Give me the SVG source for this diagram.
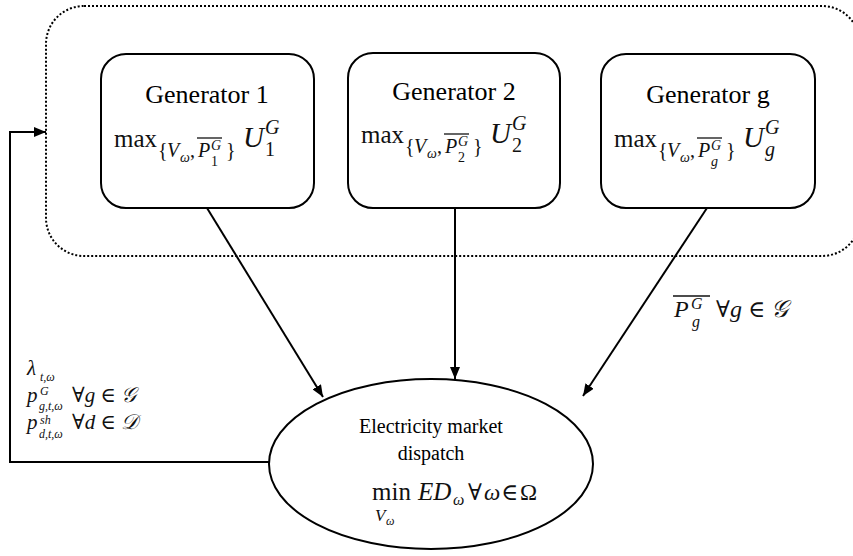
<svg xmlns="http://www.w3.org/2000/svg" width="853" height="556" viewBox="0 0 853 556">
<style>
.box{fill:#fff;stroke:#000;stroke-width:2}
.cont{fill:none;stroke:#000;stroke-width:2;stroke-dasharray:2 2}
.con{fill:none;stroke:#000;stroke-width:2}
.t{font-family:"Liberation Serif","Times New Roman",serif;fill:#000}
.i{font-style:italic}
.m{font-family:"Liberation Serif","Times New Roman",serif;fill:#111}
.s{font-family:"DejaVu Serif",serif;font-style:normal}
.ov{stroke:#111;stroke-width:1.3}
</style>
<defs>
<marker id="ah" viewBox="0 0 12 10" refX="12" refY="5" markerWidth="12" markerHeight="10" markerUnits="userSpaceOnUse" orient="auto">
<path d="M0,0 L12,5 L0,10 Z" fill="#000"/>
</marker>
</defs>
<g id="container">
<rect class="cont" x="46" y="6" width="814" height="250" rx="38"/>
</g>
<g id="connectors">
<line class="con" x1="207" y1="208" x2="323" y2="397" marker-end="url(#ah)"/>
<line class="con" x1="455" y1="208" x2="455" y2="379" marker-end="url(#ah)"/>
<line class="con" x1="707" y1="208" x2="583" y2="396" marker-end="url(#ah)"/>
<polyline class="con" points="270,462 10,462 10,132 46,132" marker-end="url(#ah)"/>
</g>
<g id="gen1">
<rect class="box" x="101" y="54" width="213" height="154" rx="25"/>
<text class="t" x="207" y="103" font-size="26" text-anchor="middle">Generator 1</text>
<g>
<text class="m" x="114" y="147" font-size="25">max</text>
<text class="m" x="158" y="157" font-size="20">{</text>
<text class="m i" x="167" y="157" font-size="20">V</text>
<text class="m i" x="180" y="162" font-size="14">ω</text>
<text class="m" x="190" y="157" font-size="20">,</text>
<text class="m i" x="198" y="157" font-size="20">P</text>
<text class="m i" x="211" y="150" font-size="14">G</text>
<text class="m" x="211" y="166" font-size="14">1</text>
<line class="ov" x1="197" y1="138" x2="222" y2="138"/>
<text class="m" x="226" y="157" font-size="20">}</text>
<text class="m i" x="243" y="147" font-size="29">U</text>
<text class="m i" x="265" y="134" font-size="20">G</text>
<text class="m" x="265" y="156" font-size="20">1</text>
</g>
</g>
<g id="gen2">
<rect class="box" x="348" y="53" width="212" height="155" rx="25"/>
<text class="t" x="454" y="100" font-size="26" text-anchor="middle">Generator 2</text>
<g transform="translate(247,-4)">
<text class="m" x="114" y="147" font-size="25">max</text>
<text class="m" x="158" y="157" font-size="20">{</text>
<text class="m i" x="167" y="157" font-size="20">V</text>
<text class="m i" x="180" y="162" font-size="14">ω</text>
<text class="m" x="190" y="157" font-size="20">,</text>
<text class="m i" x="198" y="157" font-size="20">P</text>
<text class="m i" x="211" y="150" font-size="14">G</text>
<text class="m" x="211" y="166" font-size="14">2</text>
<line class="ov" x1="197" y1="138" x2="222" y2="138"/>
<text class="m" x="226" y="157" font-size="20">}</text>
<text class="m i" x="243" y="147" font-size="29">U</text>
<text class="m i" x="265" y="134" font-size="20">G</text>
<text class="m" x="265" y="156" font-size="20">2</text>
</g>
</g>
<g id="geng">
<rect class="box" x="601" y="54" width="214" height="154" rx="25"/>
<text class="t" x="708" y="103" font-size="26" text-anchor="middle">Generator g</text>
<g transform="translate(500,0)">
<text class="m" x="114" y="147" font-size="25">max</text>
<text class="m" x="158" y="157" font-size="20">{</text>
<text class="m i" x="167" y="157" font-size="20">V</text>
<text class="m i" x="180" y="162" font-size="14">ω</text>
<text class="m" x="190" y="157" font-size="20">,</text>
<text class="m i" x="198" y="157" font-size="20">P</text>
<text class="m i" x="211" y="150" font-size="14">G</text>
<text class="m i" x="211" y="166" font-size="14">g</text>
<line class="ov" x1="197" y1="138" x2="222" y2="138"/>
<text class="m" x="226" y="157" font-size="20">}</text>
<text class="m i" x="243" y="147" font-size="29">U</text>
<text class="m i" x="265" y="134" font-size="20">G</text>
<text class="m i" x="265" y="156" font-size="20">g</text>
</g>
</g>
<g id="dispatch">
<ellipse class="box" cx="431" cy="464" rx="162" ry="85"/>
<text class="t" x="431" y="433" font-size="20" text-anchor="middle">Electricity market</text>
<text class="t" x="431" y="460" font-size="20" text-anchor="middle">dispatch</text>
<text class="m" x="372" y="500" font-size="25">min</text>
<text class="m i" x="375" y="521" font-size="17">V</text>
<text class="m i" x="386" y="525" font-size="12">ω</text>
<text class="m i" x="418" y="500" font-size="25">ED</text>
<text class="m i" x="453" y="505" font-size="16">ω</text>
<text class="m s" x="468" y="500" font-size="23">∀</text>
<text class="m i" x="484" y="500" font-size="23">ω</text>
<text class="m s" x="501" y="500" font-size="23">∈</text>
<text class="m" x="520" y="500" font-size="23">Ω</text>
</g>
<g id="label-left">
<text class="m i" x="27" y="375" font-size="21">λ</text>
<text class="m i" x="40" y="381" font-size="12">t,ω</text>
<text class="m i" x="27" y="402" font-size="21">p</text>
<text class="m i" x="40" y="395" font-size="12">G</text>
<text class="m i" x="39" y="410" font-size="12">g,t,ω</text>
<text class="m" x="72" y="402" font-size="21"><tspan class="s" font-size="21">∀</tspan><tspan class="i">g</tspan> <tspan class="s" font-size="21">∈</tspan> <tspan class="i">𝒢</tspan></text>
<text class="m i" x="27" y="429" font-size="21">p</text>
<text class="m i" x="40" y="424" font-size="12">sh</text>
<text class="m i" x="39" y="438" font-size="12">d,t,ω</text>
<text class="m" x="72" y="429" font-size="21"><tspan class="s" font-size="21">∀</tspan><tspan class="i">d</tspan> <tspan class="s" font-size="21">∈</tspan> <tspan class="i">𝒟</tspan></text>
</g>
<g id="label-right">
<line class="ov" x1="673" y1="296" x2="710" y2="296"/>
<text class="m i" x="674" y="317" font-size="24">P</text>
<text class="m i" x="691" y="309" font-size="16">G</text>
<text class="m i" x="692" y="327" font-size="16">g</text>
<text class="m" x="716" y="317" font-size="24"><tspan class="s" font-size="23">∀</tspan><tspan class="i">g</tspan> <tspan class="s" font-size="23">∈</tspan> <tspan class="i">𝒢</tspan></text>
</g>
</svg>
